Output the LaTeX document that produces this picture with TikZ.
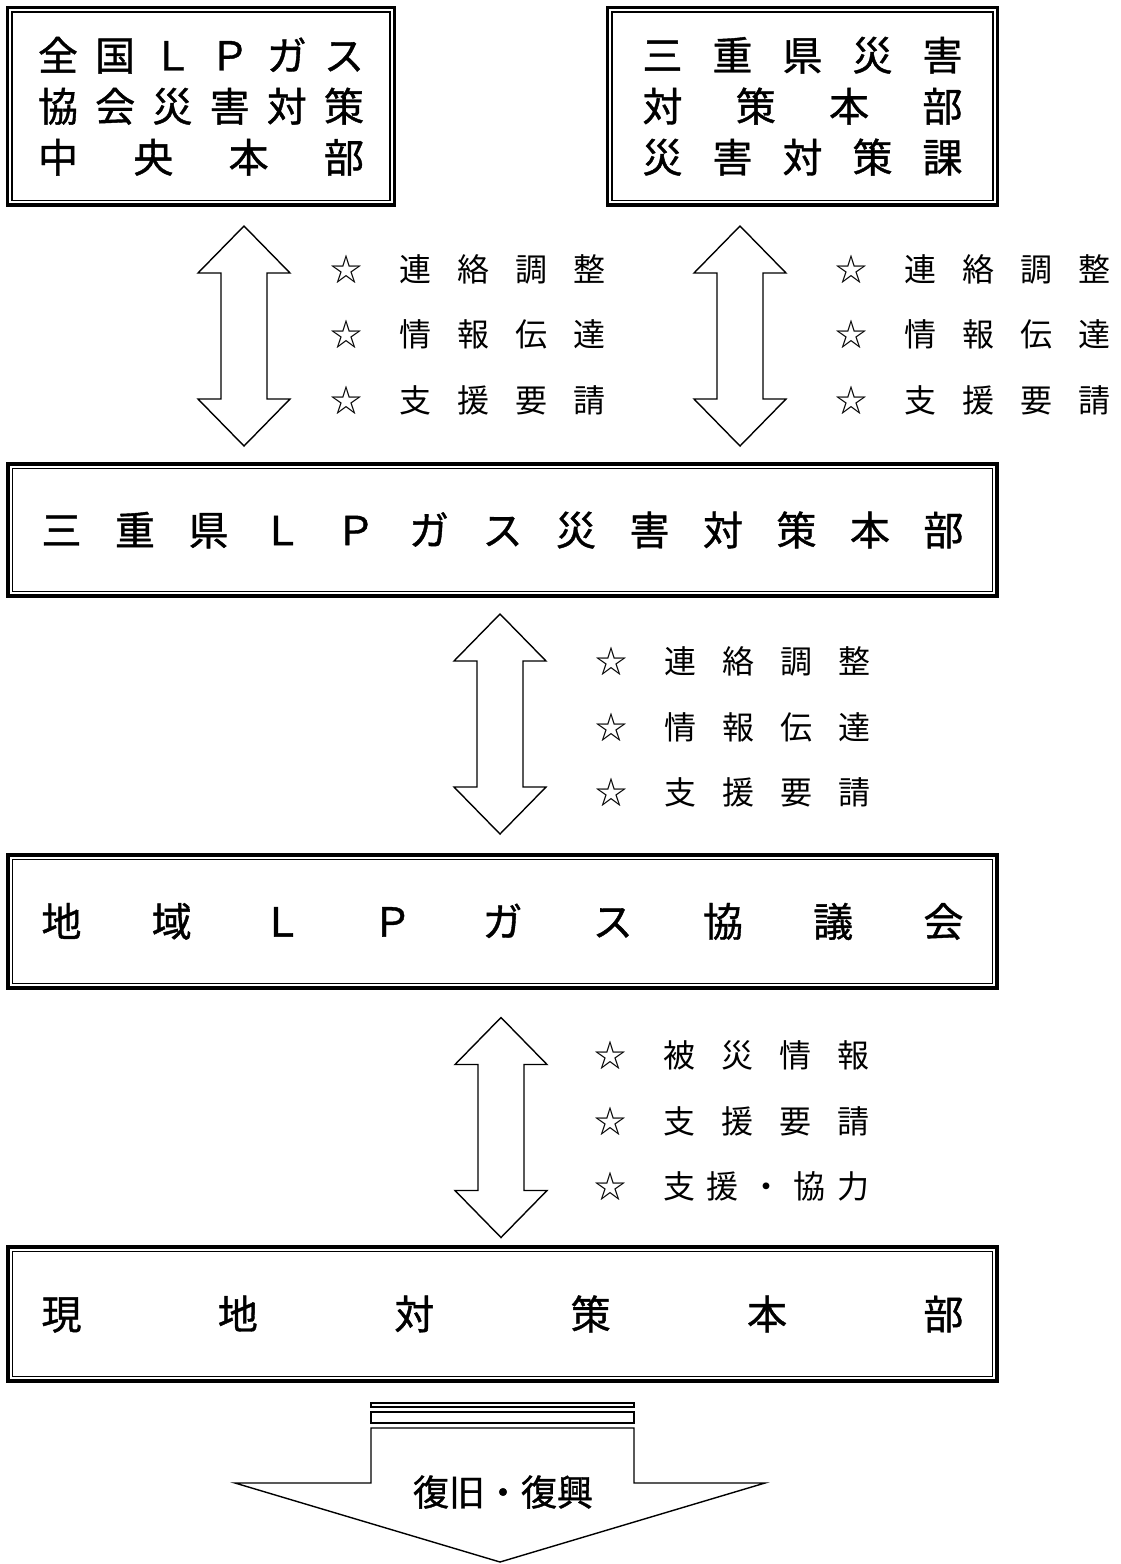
\documentclass[tikz,border=0pt]{standalone}
\usepackage{fontspec}
\setmainfont{Noto Sans CJK JP}
\newfontfamily\boxfont[FakeBold=1]{Noto Sans CJK JP}
\usetikzlibrary{positioning}

\newcommand{\spreadline}[2]{\makebox[#1]{#2}}
\newcommand{\staritem}[1]{\makebox[32pt]{☆}\hspace{37pt}\makebox[206pt]{#1}}

\tikzset{
  framebox/.style={draw, line width=3.2pt, inner sep=0pt,
    path picture={\draw[line width=1.6pt] ([xshift=4.6pt,yshift=-4.6pt]path picture bounding box.north west) rectangle ([xshift=-4.6pt,yshift=4.6pt]path picture bounding box.south east);}},
  bigtext/.style={font=\boxfont\fontsize{40}{51}\selectfont, align=center},
  smalltext/.style={font=\fontsize{32}{65.5}\selectfont, align=left, inner sep=0pt, anchor=west},
  dblarrow/.pic={\draw[line width=1.4pt, fill=white] (0,-110) -- (46,-63) -- (23,-63) -- (23,63) -- (46,63) -- (0,110) -- (-46,63) -- (-23,63) -- (-23,-63) -- (-46,-63) -- cycle;}
}

\begin{document}
\begin{tikzpicture}[x=1pt, y=-1pt]
\useasboundingbox (0,0) rectangle (1120,1564);

%Cajas
\node[framebox, bigtext, minimum width=387pt, minimum height=197.5pt] (zenkoku) at (201,106.25)
  {\spreadline{326pt}{全\hfill 国\hfill Ｌ\hfill Ｐ\hfill ガ\hfill ス}\\
   \spreadline{326pt}{協\hfill 会\hfill 災\hfill 害\hfill 対\hfill 策}\\
   \spreadline{326pt}{中\hfill 央\hfill 本\hfill 部}};
\node[framebox, bigtext, minimum width=390pt, minimum height=197.5pt] (mie) at (802.5,106.25)
  {\spreadline{320pt}{三\hfill 重\hfill 県\hfill 災\hfill 害}\\
   \spreadline{320pt}{対\hfill 策\hfill 本\hfill 部}\\
   \spreadline{320pt}{災\hfill 害\hfill 対\hfill 策\hfill 課}};
\node[framebox, bigtext, minimum width=989pt, minimum height=132pt] (honbu) at (502.5,530)
  {\spreadline{922pt}{三\hfill 重\hfill 県\hfill Ｌ\hfill Ｐ\hfill ガ\hfill ス\hfill 災\hfill 害\hfill 対\hfill 策\hfill 本\hfill 部}};
\node[framebox, bigtext, minimum width=989pt, minimum height=133pt] (chiiki) at (502.5,921.5)
  {\spreadline{922pt}{地\hfill 域\hfill Ｌ\hfill Ｐ\hfill ガ\hfill ス\hfill 協\hfill 議\hfill 会}};
\node[framebox, bigtext, minimum width=989pt, minimum height=134pt] (genchi) at (502.5,1314)
  {\spreadline{922pt}{現\hfill 地\hfill 対\hfill 策\hfill 本\hfill 部}};

%Flechas
\pic (arr1) at (244,336) {dblarrow};
\pic (arr2) at (740,336) {dblarrow};
\pic (arr3) at (500,724) {dblarrow};
\pic (arr4) at (501,1127.5) {dblarrow};

%Textos
\node[smalltext] (msg1) at (330,334.5)
  {\staritem{連\hfill 絡\hfill 調\hfill 整}\\ \staritem{情\hfill 報\hfill 伝\hfill 達}\\ \staritem{支\hfill 援\hfill 要\hfill 請}};
\node[smalltext] (msg2) at (835,334.5)
  {\staritem{連\hfill 絡\hfill 調\hfill 整}\\ \staritem{情\hfill 報\hfill 伝\hfill 達}\\ \staritem{支\hfill 援\hfill 要\hfill 請}};
\node[smalltext] (msg3) at (595,727)
  {\staritem{連\hfill 絡\hfill 調\hfill 整}\\ \staritem{情\hfill 報\hfill 伝\hfill 達}\\ \staritem{支\hfill 援\hfill 要\hfill 請}};
\node[smalltext] (msg4) at (594,1121)
  {\staritem{被\hfill 災\hfill 情\hfill 報}\\ \staritem{支\hfill 援\hfill 要\hfill 請}\\ \staritem{支\hfill 援\hfill ・\hfill 協\hfill 力}};

%Flecha final
\draw[line width=1.4pt] (371,1403) rectangle (634,1407);
\draw[line width=1.4pt] (371,1412) rectangle (634,1423);
\draw[line width=1.4pt, fill=white] (371,1483) -- (371,1428) -- (634,1428) -- (634,1483) -- (765,1483) -- (500,1562) -- (235,1483) -- cycle;
\node[font=\boxfont\fontsize{36}{40}\selectfont] (fukkyu) at (503,1492) {復旧・復興};
\end{tikzpicture}
\end{document}
